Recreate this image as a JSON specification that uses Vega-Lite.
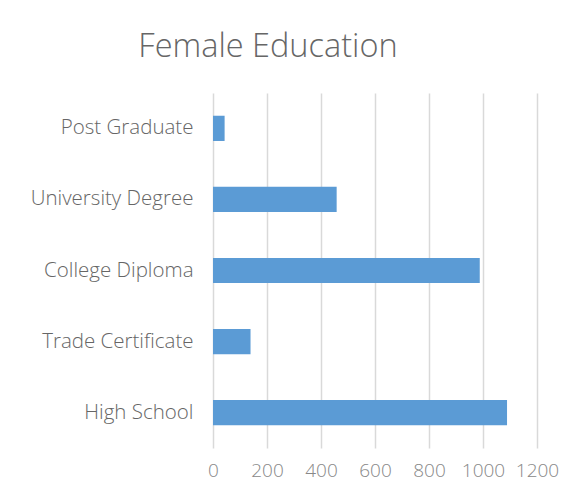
{
  "$schema": "https://vega.github.io/schema/vega-lite/v6.json",
  "width": 324,
  "height": 355,
  "autosize": {"type": "none"},
  "padding": {"left": 213, "top": 93, "right": 39, "bottom": 44},
  "background": "white",
  "title": {
    "text": "Female Education",
    "anchor": "middle",
    "frame": "group",
    "dx": -107,
    "offset": 30,
    "font": "Open Sans",
    "fontSize": 32.5,
    "fontWeight": 300,
    "color": "#666666"
  },
  "data": {
    "values": [
      {"level": "Post Graduate", "count": 43},
      {"level": "University Degree", "count": 458},
      {"level": "College Diploma", "count": 988},
      {"level": "Trade Certificate", "count": 139},
      {"level": "High School", "count": 1089}
    ]
  },
  "mark": {"type": "bar", "color": "#5B9BD5"},
  "encoding": {
    "y": {
      "field": "level",
      "type": "nominal",
      "sort": null,
      "scale": {"paddingInner": 0.645, "paddingOuter": 0.32},
      "axis": {
        "title": null,
        "domain": false,
        "ticks": false,
        "labelPadding": 20,
        "labelFont": "Open Sans",
        "labelFontSize": 20.5,
        "labelFontWeight": 300,
        "labelColor": "#666666"
      }
    },
    "x": {
      "field": "count",
      "type": "quantitative",
      "scale": {"domain": [0, 1200], "nice": false},
      "axis": {
        "title": null,
        "values": [0, 200, 400, 600, 800, 1000, 1200],
        "format": "d",
        "labelOverlap": false,
        "labelFlush": false,
        "domain": false,
        "ticks": false,
        "labelPadding": 13,
        "labelFont": "Open Sans",
        "labelFontSize": 19,
        "labelFontWeight": 300,
        "labelColor": "#888888",
        "gridColor": "#d9d9d9",
        "gridWidth": 1.5
      }
    }
  },
  "config": {"view": {"stroke": null}}
}
